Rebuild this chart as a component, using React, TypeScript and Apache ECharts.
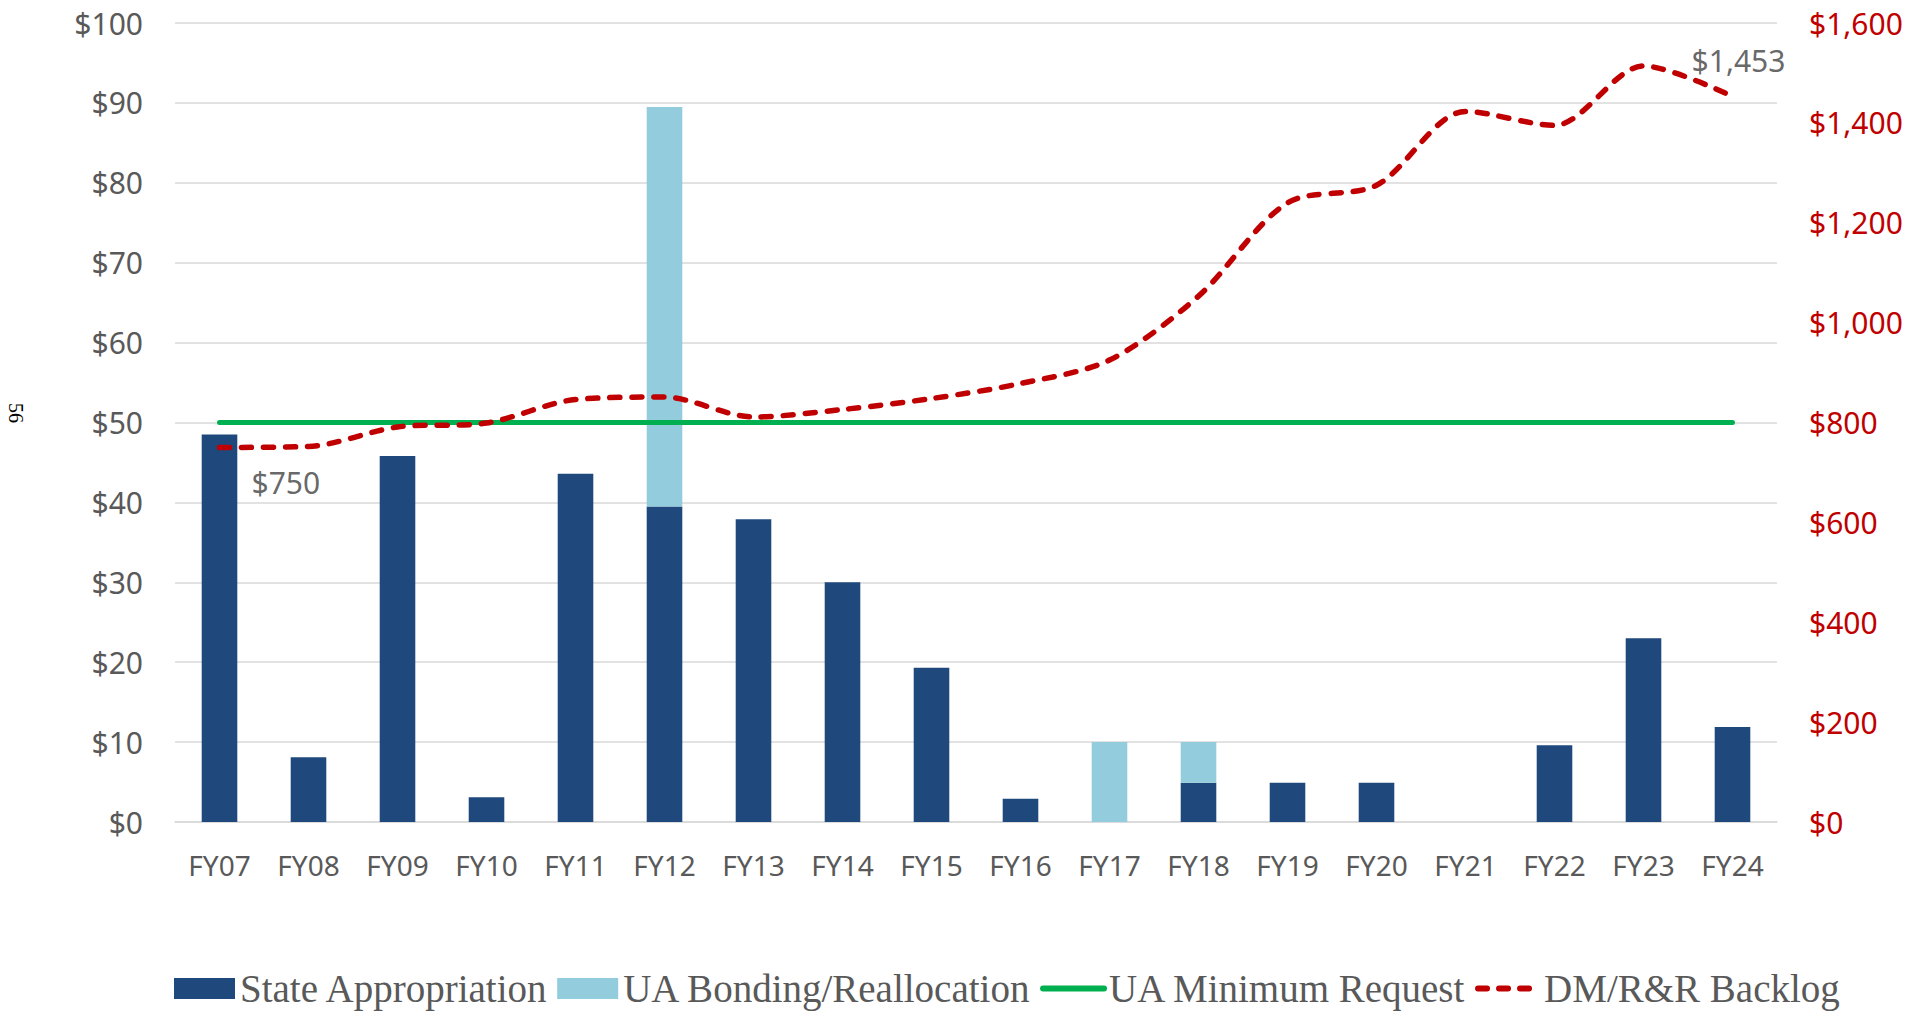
import React, { useEffect, useRef } from "react";
import * as echarts from "echarts";

const categories = ["FY07","FY08","FY09","FY10","FY11","FY12","FY13","FY14","FY15","FY16","FY17","FY18","FY19","FY20","FY21","FY22","FY23","FY24"];
const stateAppropriation = [48.5, 8.1, 45.8, 3.1, 43.6, 39.5, 37.9, 30.0, 19.3, 2.9, 0, 4.9, 4.9, 4.9, 0, 9.6, 23.0, 11.9];
const uaBonding = [0, 0, 0, 0, 0, 50.0, 0, 0, 0, 0, 10.0, 5.1, 0, 0, 0, 0, 0, 0];
const uaMinimumRequest = [50, 50, 50, 50, 50, 50, 50, 50, 50, 50, 50, 50, 50, 50, 50, 50, 50, 50];
const backlog = [750, 752, 791, 799, 846, 851, 811, 826, 848, 878, 925, 1053, 1240, 1275, 1423, 1395, 1514, 1453];
const leftTicks = { min: 0, max: 100, interval: 10 };
const rightTicks = { min: 0, max: 1600, interval: 200 };
const labeledPoints = [[0, 750], [17, 1453]];

const AXIS_FONT = "'Noto Sans', 'Open Sans', sans-serif";
const hiddenSymbol = { opacity: 0, color: "transparent", borderColor: "transparent", borderWidth: 0 };

export default function App() {
  const ref = useRef<HTMLDivElement>(null);
  useEffect(() => {
    if (!ref.current) return;
    const chart = echarts.init(ref.current, undefined, { renderer: "svg" });
    const fmtRight = (v: number) => "$" + v.toLocaleString("en-US");
    chart.setOption({
      animation: false,
      backgroundColor: "#ffffff",
      grid: { left: 175, right: 150, top: 23, bottom: 190 },
      legend: {
        left: 169,
        top: 964,
        itemWidth: 61,
        itemHeight: 21,
        itemGap: 8.5,
        textStyle: { fontFamily: "'Liberation Serif', 'Times New Roman', serif", fontSize: 39, color: "#595959" },
        data: [
          { name: "State Appropriation", icon: "rect" },
          { name: "UA Bonding/Reallocation", icon: "rect" },
          { name: "UA Minimum Request", itemStyle: hiddenSymbol, lineStyle: { width: 6, color: "#00B050", cap: "round" } },
          { name: "DM/R&R Backlog", itemStyle: hiddenSymbol, lineStyle: { width: 6, color: "#C00000", type: [9, 12], cap: "round" } },
        ],
      },
      graphic: [
        {
          type: "text",
          x: 16,
          y: 413,
          rotation: -Math.PI / 2,
          style: { text: "56", fontSize: 20, fontFamily: "'Liberation Serif', serif", fill: "#000", align: "center", verticalAlign: "middle" },
        },
      ],
      xAxis: {
        type: "category",
        data: categories,
        axisTick: { show: false },
        axisLine: { lineStyle: { color: "#D9D9D9", width: 1.5 } },
        axisLabel: { fontFamily: AXIS_FONT, fontSize: 28, color: "#595959", margin: 29 },
      },
      yAxis: [
        {
          type: "value",
          ...leftTicks,
          axisLine: { show: false },
          axisTick: { show: false },
          splitLine: { lineStyle: { color: "#D9D9D9", width: 1.5 } },
          axisLabel: { fontFamily: AXIS_FONT, fontSize: 30, color: "#595959", margin: 32, formatter: (v: number) => "$" + v },
        },
        {
          type: "value",
          ...rightTicks,
          position: "right",
          axisLine: { show: false },
          axisTick: { show: false },
          splitLine: { show: false },
          axisLabel: { fontFamily: AXIS_FONT, fontSize: 30, color: "#C00000", margin: 32, formatter: fmtRight },
        },
      ],
      series: [
        {
          name: "State Appropriation",
          type: "bar",
          stack: "funding",
          barWidth: "40%",
          data: stateAppropriation,
          itemStyle: { color: "#1F497D" },
        },
        {
          name: "UA Bonding/Reallocation",
          type: "bar",
          stack: "funding",
          barWidth: "40%",
          data: uaBonding,
          itemStyle: { color: "#93CDDD" },
        },
        {
          name: "UA Minimum Request",
          type: "line",
          data: uaMinimumRequest,
          symbol: "none",
          lineStyle: { color: "#00B050", width: 5, cap: "round" },
          itemStyle: { color: "#00B050" },
          z: 3,
        },
        {
          name: "DM/R&R Backlog",
          type: "line",
          yAxisIndex: 1,
          data: backlog,
          symbol: "none",
          smooth: 0.3,
          lineStyle: { color: "#C00000", width: 5.5, type: [10, 12], cap: "round" },
          itemStyle: { color: "#C00000" },
          z: 4,
        },
        {
          name: "labels",
          type: "scatter",
          yAxisIndex: 1,
          symbolSize: 1,
          itemStyle: { color: "transparent" },
          silent: true,
          data: [
            {
              value: labeledPoints[0],
              label: {
                show: true,
                position: "inside",
                align: "left",
                verticalAlign: "middle",
                offset: [32, 35],
                formatter: "$750",
                fontFamily: AXIS_FONT,
                fontSize: 30,
                color: "#404040",
              },
            },
            {
              value: labeledPoints[1],
              label: {
                show: true,
                position: "inside",
                align: "center",
                verticalAlign: "middle",
                offset: [6, -36],
                formatter: "$1,453",
                fontFamily: AXIS_FONT,
                fontSize: 30,
                color: "#404040",
              },
            },
          ],
          z: 5,
        },
      ],
    });
    return () => chart.dispose();
  }, []);
  return <div ref={ref} style={{ position: "fixed", left: 0, top: 0, width: 1927, height: 1012 }} />;
}
